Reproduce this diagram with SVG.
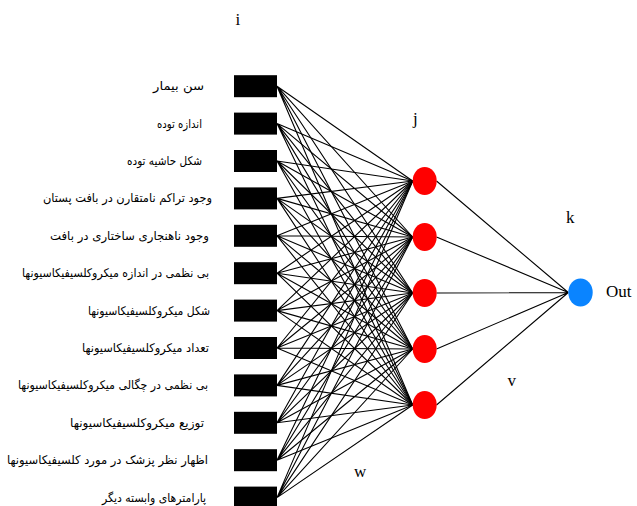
<svg xmlns="http://www.w3.org/2000/svg" width="637" height="506" viewBox="0 0 637 506">
  <style>
    .bg { fill: #ffffff; }
    .in { fill: #000000; }
    .hid { fill: #ff0000; }
    .out { fill: #0a84ff; }
    .edge { stroke: #000000; stroke-width: 1.1; fill: none; }
    .lbl { font-family: "DejaVu Sans", "Noto Sans", sans-serif; font-size: 12px; fill: #000000; text-anchor: end; }
    .tag { font-family: "Liberation Serif", "Times New Roman", serif; font-size: 17px; fill: #000000; }
  </style>
  <rect class="bg" x="0" y="0" width="637" height="506"/>

  <!-- connectors: input layer -> hidden layer (w), hidden layer -> output (v) -->
  <g id="connectors" class="edge">
    <g id="w-edges">
      <path d="M277 86.2L412.7 181M277 86.2L412.7 237M277 86.2L412.7 293M277 86.2L412.7 349M277 86.2L412.7 405"/>
      <path d="M277 123.6L412.7 181M277 123.6L412.7 237M277 123.6L412.7 293M277 123.6L412.7 349M277 123.6L412.7 405"/>
      <path d="M277 161L412.7 181M277 161L412.7 237M277 161L412.7 293M277 161L412.7 349M277 161L412.7 405"/>
      <path d="M277 198.4L412.7 181M277 198.4L412.7 237M277 198.4L412.7 293M277 198.4L412.7 349M277 198.4L412.7 405"/>
      <path d="M277 235.8L412.7 181M277 235.8L412.7 237M277 235.8L412.7 293M277 235.8L412.7 349M277 235.8L412.7 405"/>
      <path d="M277 273.2L412.7 181M277 273.2L412.7 237M277 273.2L412.7 293M277 273.2L412.7 349M277 273.2L412.7 405"/>
      <path d="M277 310.6L412.7 181M277 310.6L412.7 237M277 310.6L412.7 293M277 310.6L412.7 349M277 310.6L412.7 405"/>
      <path d="M277 348L412.7 181M277 348L412.7 237M277 348L412.7 293M277 348L412.7 349M277 348L412.7 405"/>
      <path d="M277 385.4L412.7 181M277 385.4L412.7 237M277 385.4L412.7 293M277 385.4L412.7 349M277 385.4L412.7 405"/>
      <path d="M277 422.8L412.7 181M277 422.8L412.7 237M277 422.8L412.7 293M277 422.8L412.7 349M277 422.8L412.7 405"/>
      <path d="M277 460.2L412.7 181M277 460.2L412.7 237M277 460.2L412.7 293M277 460.2L412.7 349M277 460.2L412.7 405"/>
      <path d="M277 497.6L412.7 181M277 497.6L412.7 237M277 497.6L412.7 293M277 497.6L412.7 349M277 497.6L412.7 405"/>
    </g>
    <g id="v-edges">
      <path d="M436.5 181L568.3 292.5M436.5 237L568.3 292.5M436.5 293L568.3 292.5M436.5 349L568.3 292.5M436.5 405L568.3 292.5"/>
    </g>
  </g>

  <!-- input layer i -->
  <g id="input-1"><rect class="in" x="234" y="75.2" width="43" height="22"/><text class="lbl" x="204" y="90.2" textLength="51" lengthAdjust="spacingAndGlyphs">سن بیمار</text></g>
  <g id="input-2"><rect class="in" x="234" y="112.6" width="43" height="22"/><text class="lbl" x="202" y="127.6" textLength="45" lengthAdjust="spacingAndGlyphs">اندازه توده</text></g>
  <g id="input-3"><rect class="in" x="234" y="150" width="43" height="22"/><text class="lbl" x="202" y="165" textLength="75" lengthAdjust="spacingAndGlyphs">شکل حاشیه توده</text></g>
  <g id="input-4"><rect class="in" x="234" y="187.4" width="43" height="22"/><text class="lbl" x="212" y="202.4" textLength="169" lengthAdjust="spacingAndGlyphs">وجود تراکم نامتقارن در بافت پستان</text></g>
  <g id="input-5"><rect class="in" x="234" y="224.8" width="43" height="22"/><text class="lbl" x="209" y="239.8" textLength="159" lengthAdjust="spacingAndGlyphs">وجود ناهنجاری ساختاری در بافت</text></g>
  <g id="input-6"><rect class="in" x="234" y="262.2" width="43" height="22"/><text class="lbl" x="209" y="277.2" textLength="187" lengthAdjust="spacingAndGlyphs">بی نظمی در اندازه میکروکلسیفیکاسیونها</text></g>
  <g id="input-7"><rect class="in" x="234" y="299.6" width="43" height="22"/><text class="lbl" x="210" y="314.6" textLength="122" lengthAdjust="spacingAndGlyphs">شکل میکروکلسیفیکاسیونها</text></g>
  <g id="input-8"><rect class="in" x="234" y="337" width="43" height="22"/><text class="lbl" x="209" y="352" textLength="127" lengthAdjust="spacingAndGlyphs">تعداد میکروکلسیفیکاسیونها</text></g>
  <g id="input-9"><rect class="in" x="234" y="374.4" width="43" height="22"/><text class="lbl" x="208" y="389.4" textLength="190" lengthAdjust="spacingAndGlyphs">بی نظمی در چگالی میکروکلسیفیکاسیونها</text></g>
  <g id="input-10"><rect class="in" x="234" y="411.8" width="43" height="22"/><text class="lbl" x="204" y="426.8" textLength="134" lengthAdjust="spacingAndGlyphs">توزیع میکروکلسیفیکاسیونها</text></g>
  <g id="input-11"><rect class="in" x="234" y="449.2" width="43" height="22"/><text class="lbl" x="208" y="464.2" textLength="201" lengthAdjust="spacingAndGlyphs">اظهار نظر پزشک در مورد کلسیفیکاسیونها</text></g>
  <g id="input-12"><rect class="in" x="234" y="486.6" width="43" height="22"/><text class="lbl" x="206" y="501.6" textLength="104" lengthAdjust="spacingAndGlyphs">پارامترهای وابسته دیگر</text></g>

  <!-- hidden layer j -->
  <g id="hidden-1"><ellipse class="hid" cx="424.7" cy="181" rx="12" ry="14"/></g>
  <g id="hidden-2"><ellipse class="hid" cx="424.7" cy="237" rx="12" ry="14"/></g>
  <g id="hidden-3"><ellipse class="hid" cx="424.7" cy="293" rx="12" ry="14"/></g>
  <g id="hidden-4"><ellipse class="hid" cx="424.7" cy="349" rx="12" ry="14"/></g>
  <g id="hidden-5"><ellipse class="hid" cx="424.7" cy="405" rx="12" ry="14"/></g>

  <!-- output layer k -->
  <g id="output"><ellipse class="out" cx="580.5" cy="292.5" rx="12.2" ry="14"/><text class="tag" x="606" y="297">Out</text></g>

  <!-- layer and weight tags -->
  <g id="tags">
    <text class="tag" x="235.5" y="25">i</text>
    <text class="tag" x="413" y="124">j</text>
    <text class="tag" x="566" y="223">k</text>
    <text class="tag" x="507.5" y="386">v</text>
    <text class="tag" x="354" y="477">w</text>
  </g>
</svg>
